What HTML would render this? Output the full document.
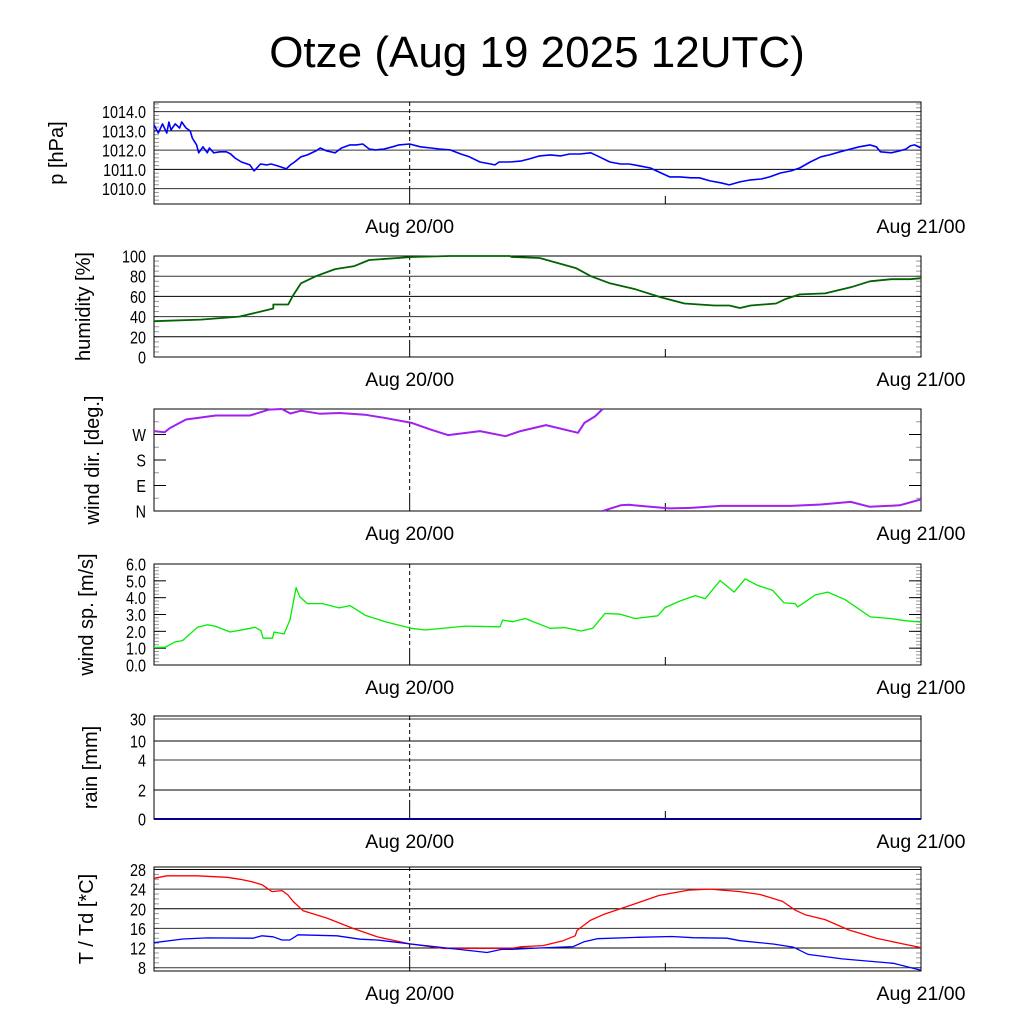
<!DOCTYPE html>
<html><head><meta charset="utf-8"><style>
html,body{margin:0;padding:0;background:#fff}
svg{display:block;font-family:"Liberation Sans",sans-serif}
</style></head><body>
<svg id="chart" width="1024" height="1024" viewBox="0 0 1024 1024" xmlns="http://www.w3.org/2000/svg">
<text x="537" y="67" font-size="44" text-anchor="middle">Otze (Aug 19 2025 12UTC)</text>
</svg>
<script>
// time in hours since Aug 19 12UTC
const xTickLabels = ["Aug 20/00", "Aug 21/00"];
const xTickHours = [12, 36];
const pTimes = [0,0.2,0.4,0.6,0.7,0.8,1.0,1.2,1.3,1.5,1.7,1.8,2.0,2.1,2.3,2.5,2.6,2.8,3.1,3.4,3.6,3.8,4.1,4.5,4.7,5.0,5.3,5.5,5.8,6.1,6.2,6.4,6.6,6.9,7.2,7.6,7.8,8.1,8.5,8.8,9.2,9.5,9.8,10.1,10.4,10.8,11.2,11.5,12,12.5,13,13.4,13.9,14.4,14.8,15.3,15.8,16,16.2,16.7,17.2,17.6,18.1,18.6,19.1,19.5,20,20.5,20.9,21.4,21.9,22.3,22.8,23.3,23.8,24.2,24.7,25.2,25.6,26.1,26.6,27,27.5,28,28.5,28.9,29.4,29.9,30.3,30.8,31.3,31.7,32.2,32.7,33.1,33.6,33.9,34.1,34.6,35,35.3,35.5,35.7,36];
const pValues = [1013.31,1012.89,1013.36,1012.89,1013.46,1013.05,1013.36,1013.15,1013.46,1013.15,1013.0,1012.63,1012.27,1011.86,1012.17,1011.86,1012.11,1011.86,1011.91,1011.91,1011.80,1011.59,1011.38,1011.23,1010.92,1011.28,1011.23,1011.28,1011.18,1011.07,1011.02,1011.23,1011.38,1011.65,1011.75,1011.96,1012.11,1011.96,1011.86,1012.11,1012.27,1012.27,1012.32,1012.06,1012.01,1012.06,1012.17,1012.27,1012.32,1012.17,1012.11,1012.06,1012.01,1011.80,1011.65,1011.38,1011.28,1011.23,1011.38,1011.38,1011.43,1011.54,1011.70,1011.75,1011.70,1011.80,1011.80,1011.86,1011.65,1011.38,1011.28,1011.28,1011.18,1011.07,1010.81,1010.61,1010.61,1010.56,1010.56,1010.40,1010.30,1010.19,1010.35,1010.45,1010.50,1010.61,1010.81,1010.92,1011.07,1011.38,1011.65,1011.75,1011.91,1012.06,1012.17,1012.27,1012.17,1011.91,1011.86,1011.96,1012.06,1012.22,1012.27,1012.11];
const hTimes = [0,2.2,4,5,5.6,5.6,6.3,6.5,6.9,7.6,8.5,9.4,10.1,12.1,13.9,16.7,16.8,18.1,19.3,19.8,20.5,21.4,22.6,23.8,24.9,26.3,27,27.5,28,29.2,29.6,30.3,31.5,32.7,33.6,34.6,35.5,36];
const hValues = [35.4,37,40,45,48,52,52,60,73,80,87,90,96,99,100,100,99,98,91,88,80,73,67,59,53,51,51,48.5,51,53,57,62,63,69,75,77,77,78];
const wdTimes = [0,0.5,0.75,1.5,2.9,4.5,5.4,6,6.4,6.9,7.8,8.7,9.9,10.8,12.1,13,13.8,15.3,16.5,17.2,18.4,19.9,20.2,20.7,21.06,21.06,21.9,22.3,23.3,24.2,25.2,26.6,28,29.9,31.3,32.7,33.6,35,36];
const wdValues = [282,278,293,323,337,337,358,360,344,354,343,346,340,329,311,287,268,282,264,282,303,276,311,334,360,0,20,22,15,9,11,18,18,18,23,32,15,20,41];
const wsTimes = [0,0.52,0.99,1.34,2.04,2.51,2.86,3.57,4.27,4.74,5.02,5.12,5.56,5.63,6.1,6.38,6.67,6.85,7.2,7.91,8.69,9.2,9.91,10.85,12.07,12.72,14.6,16.24,16.36,16.83,17.42,18.59,19.3,20.05,20.59,21.17,21.88,22.58,23.64,23.99,24.69,25.4,25.87,26.57,27.23,27.75,28.33,29.04,29.39,29.58,30.09,30.21,30.56,31.03,31.62,32.44,33.62,34.55,35.26,36];
const wsValues = [1.04,1.06,1.37,1.45,2.24,2.39,2.31,1.96,2.12,2.24,2.04,1.59,1.59,1.96,1.84,2.67,4.59,4.04,3.65,3.65,3.39,3.53,2.96,2.57,2.18,2.08,2.31,2.27,2.67,2.57,2.76,2.18,2.22,2.02,2.18,3.06,3.02,2.76,2.92,3.41,3.8,4.12,3.94,5.02,4.33,5.12,4.73,4.43,3.94,3.69,3.65,3.45,3.75,4.16,4.33,3.88,2.86,2.76,2.63,2.55];
const rainTimes = [0,36];
const rainValues = [0,0];
const tTimes = [0,0.61,2.02,3.43,4.04,4.6,5.07,5.54,6.01,6.29,6.53,7,8.12,9.34,10.47,12,13.6,16.8,17.28,18.26,19.2,19.77,19.86,20.47,21.13,22.7,23.7,25.1,26.1,27.5,28.45,29.5,30.1,30.56,31.5,32.6,33.9,35.2,36];
const tValues = [26.2,26.7,26.7,26.4,26,25.5,24.9,23.5,23.7,22.8,21.5,19.6,18.1,16,14.3,12.85,11.9,11.96,12.3,12.5,13.5,14.5,15.6,17.6,18.9,21.2,22.7,23.8,24,23.5,22.9,21.5,19.7,18.8,17.8,15.7,14,12.8,12.1];
const tdTimes = [0,1.36,2.49,4.65,5.07,5.59,6.01,6.38,6.76,8.59,9.67,10.47,12,13.94,15.63,16.34,16.8,17.93,19.67,20.19,20.8,22.72,24.3,25.3,26.9,27.5,29.1,30,30.7,32.3,34.7,36];
const tdValues = [13.1,13.85,14.06,14,14.5,14.3,13.65,13.65,14.7,14.5,13.8,13.65,12.85,11.9,11.1,11.75,11.75,12,12.3,13.3,13.9,14.2,14.35,14.1,14.0,13.5,12.8,12.2,10.7,9.8,8.9,7.5];
const pTicks = [1010,1011,1012,1013,1014];
const hTicks = [0,20,40,60,80,100];
const wdTicks = [0,90,180,270];
const wdTickLabels = ["N","E","S","W"];
const wsTicks = [0,1,2,3,4,5,6];
const rainTicks = [0,2,4,10,30];
const tTicks = [8,12,16,20,24,28];

const NS="http://www.w3.org/2000/svg";
const svg=document.getElementById('chart');
const X0=154,X1=921,H0=0,H1=36;
const xs=h=>X0+(h-H0)/(H1-H0)*(X1-X0);
function el(tag,attrs,parent){const e=document.createElementNS(NS,tag);for(const k in attrs)e.setAttribute(k,attrs[k]);(parent||svg).appendChild(e);return e;}
function linY(top,bot,d0,d1){return v=>bot-(v-d0)/(d1-d0)*(bot-top);}
function rainY(v){const tv=[0,2,4,10,30],ty=[819,790,760,741,719];for(let i=1;i<tv.length;i++){if(v<=tv[i]){return ty[i-1]+(v-tv[i-1])/(tv[i]-tv[i-1])*(ty[i]-ty[i-1]);}}return 716;}

function panel(name,top,bot,ys,ticks,labels,grid,minor,title,titleX){
  const g=el('g',{});
  
  
  minor.forEach(v=>{const y=ys(v);if(y<top-0.5||y>bot+0.5)return;
    const a=el('line',{x1:X0,x2:X0+5,y1:y,y2:y,stroke:'#999','stroke-width':1},g);
    
    const b=el('line',{x1:X1-5,x2:X1,y1:y,y2:y,stroke:'#999','stroke-width':1},g);
    });
  ticks.forEach((v,i)=>{const y=ys(v);
    if(grid){const l=el('line',{x1:X0,x2:X1,y1:y,y2:y,stroke:i%2?'#000':'#333','stroke-width':1},g);
      }
    else{const a=el('line',{x1:X0,x2:X0+12,y1:y,y2:y,stroke:'#000'},g);
      const b=el('line',{x1:X1-12,x2:X1,y1:y,y2:y,stroke:'#000'},g);}
    const t=el('text',{x:0,y:0,'font-size':18,'text-anchor':'end',transform:`translate(146 ${y+6.5}) scale(0.8 1)`},g);t.textContent=labels[i];
    });
  const d=el('line',{x1:xs(12),x2:xs(12),y1:top,y2:bot-15,stroke:'#000','stroke-dasharray':'4,3'},g);
  
  const d2=el('line',{x1:xs(12),x2:xs(12),y1:bot-15,y2:bot,stroke:'#000'},g);
  
  const d3=el('line',{x1:xs(24),x2:xs(24),y1:bot-8,y2:bot,stroke:'#000'},g);
  
  const f=el('rect',{x:X0,y:top,width:X1-X0,height:bot-top,fill:'none',stroke:'#000','stroke-width':1},g);
  
  xTickHours.forEach((h,i)=>{const t=el('text',{x:xs(h),y:bot+29,'font-size':19.5,'text-anchor':'middle'},g);t.textContent=xTickLabels[i];
    });
  const yt=el('text',{x:titleX,y:(top+bot)/2,'font-size':20,'text-anchor':'middle',transform:`rotate(-90 ${titleX} ${(top+bot)/2})`},g);
  yt.textContent=title;
  return g;
}
function series(name,times,vals,ys,color,w,wrap){
  let d='';let prev=null;
  times.forEach((h,i)=>{const v=vals[i];const cmd=(prev===null||(wrap&&Math.abs(v-prev)>180))?'M':'L';d+=cmd+xs(h).toFixed(1)+','+ys(v).toFixed(1)+' ';prev=v;});
  const p=el('path',{d:d,fill:'none',stroke:color,'stroke-width':w,'stroke-linejoin':'round'});
  
}
const range=(a,b,s)=>{const r=[];for(let v=a;v<=b+1e-9;v+=s)r.push(+v.toFixed(3));return r;};

const pY=linY(102,204,1009.2,1014.5);
panel('pressure',102,204,pY,pTicks,pTicks.map(v=>v.toFixed(1)),true,range(1009.2,1014.4,0.2),'p [hPa]',63);
series('pressure-line',pTimes,pValues,pY,'#0000ff',1.6);

const hY=linY(256,357,0,100);
panel('humidity',256,357,hY,hTicks,hTicks.map(String),true,range(0,100,5),'humidity [%]',90);
series('humidity-line',hTimes,hValues,hY,'#006400',1.8);

const wdY=linY(409,511,0,360);
panel('wind-direction',409,511,wdY,wdTicks,wdTickLabels,false,range(0,360,45),'wind dir. [deg.]',99);
series('wind-direction-line',wdTimes,wdValues,wdY,'#a020f0',2,true);

const wsY=linY(564,665,0,6);
panel('wind-speed',564,665,wsY,wsTicks,wsTicks.map(v=>v.toFixed(1)),false,range(0,6,0.2),'wind sp. [m/s]',93);
series('wind-speed-line',wsTimes,wsValues,wsY,'#00ee00',1.3);

panel('rain',716,819,rainY,rainTicks,rainTicks.map(String),true,[],'rain [mm]',97);
series('rain-line',rainTimes,rainValues,rainY,'#00008b',2);

const tY=linY(867,971,7.33,28.5);
panel('temperature',867,971,tY,tTicks,tTicks.map(String),true,range(8,28,1),'T / Td [*C]',93);
series('temperature-line',tTimes,tValues,tY,'#ff0000',1.3);
series('dewpoint-line',tdTimes,tdValues,tY,'#0000ff',1.3);
</script>
</body></html>
